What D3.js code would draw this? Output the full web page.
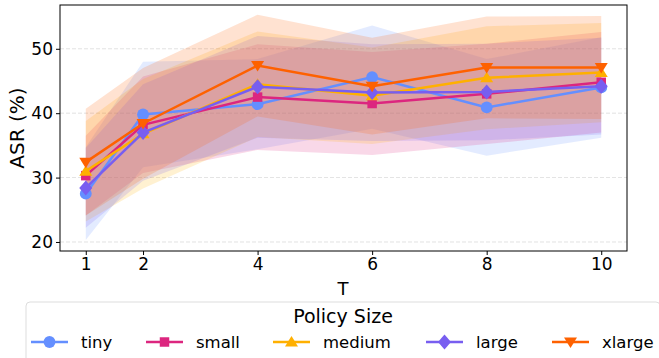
<!DOCTYPE html>
<html>
<head>
<meta charset="utf-8">
<script src="https://cdn.jsdelivr.net/npm/d3@7"></script>
<style>
  body { margin: 0; background: #fff; }
  svg { display: block; font-family: "DejaVu Sans", sans-serif; }
</style>
</head>
<body>
<svg id="chart"></svg>
<script>
// data
var steps = [1, 2, 4, 6, 8, 10];
var sizes = ['tiny', 'small', 'medium', 'large', 'xlarge'];
var colors = ['#648FFF', '#DC267F', '#FFB000', '#785EF0', '#FE6100'];
var shapes = ['circle', 'square', 'triangle', 'diamond', 'triangleDown'];

var tinyMean   = [27.5, 39.8, 41.4, 45.6, 40.9, 44.0];
var smallMean  = [30.3, 38.2, 42.5, 41.5, 43.0, 44.8];
var mediumMean = [31.0, 36.8, 44.5, 42.7, 45.5, 46.3];
var largeMean  = [28.4, 37.0, 44.1, 43.2, 43.3, 44.2];
var xlargeMean = [32.4, 38.4, 47.4, 44.2, 47.1, 47.1];

var tinyStd   = [7.2, 8.2, 7.0, 8.0, 7.5, 7.8];
var smallStd  = [6.2, 7.5, 8.2, 8.0, 7.8, 7.8];
var mediumStd = [7.8, 8.5, 8.2, 7.5, 8.0, 7.7];
var largeStd  = [6.2, 7.5, 7.9, 7.5, 7.5, 7.5];
var xlargeStd = [8.3, 8.6, 7.9, 7.5, 7.9, 8.0];

var yTicks = [20, 30, 40, 50];

var means = [tinyMean, smallMean, mediumMean, largeMean, xlargeMean];
var stds = [tinyStd, smallStd, mediumStd, largeStd, xlargeStd];

var series = sizes.map(function(name, i){
    return {
        name: name, color: colors[i], shape: shapes[i],
        pts: steps.map(function(t, j){
            return {t: t, m: means[i][j], s: stds[i][j]};
        })
    };
});

var W = 659, H = 358;
var plotL = 60, plotR = 627, plotT = 5, plotB = 251;

var svg = d3.select('#chart').attr('width', W).attr('height', H);

var x = d3.scaleLinear().domain([0.55, 10.45]).range([plotL, plotR]);
var y = d3.scaleLinear().domain([18.6, 56.8]).range([plotB, plotT]);

// grid
svg.append('g')
    .selectAll('line')
    .data(yTicks)
    .enter().append('line')
    .attr('x1', plotL).attr('x2', plotR)
    .attr('y1', function(d){ return y(d); })
    .attr('y2', function(d){ return y(d); })
    .attr('stroke', '#cccccc')
    .attr('stroke-width', 0.8)
    .attr('stroke-dasharray', '4,2')
    .attr('opacity', 0.7);

// bands
var area = d3.area()
    .x(function(d){ return x(d.t); })
    .y0(function(d){ return y(d.m - d.s); })
    .y1(function(d){ return y(d.m + d.s); });

svg.append('g')
    .selectAll('path')
    .data(series)
    .enter().append('path')
    .attr('d', function(d){ return area(d.pts); })
    .attr('fill', function(d){ return d.color; })
    .attr('fill-opacity', 0.18);

// lines
var line = d3.line()
    .x(function(d){ return x(d.t); })
    .y(function(d){ return y(d.m); });

function markerPath(shape){
    if (shape == 'circle') return d3.symbol(d3.symbolCircle, 110)();
    if (shape == 'square') return d3.symbol(d3.symbolSquare, 90)();
    if (shape == 'triangle') return 'M0,-6L6.5,4.5L-6.5,4.5Z';
    if (shape == 'triangleDown') return 'M0,6L6.5,-4.5L-6.5,-4.5Z';
    return 'M0,-7.5L6.5,0L0,7.5L-6.5,0Z';
}

series.forEach(function(s){
    var g = svg.append('g');
    g.append('path')
        .attr('d', line(s.pts))
        .attr('fill', 'none')
        .attr('stroke', s.color)
        .attr('stroke-width', 2.5);
    g.selectAll('path.mk')
        .data(s.pts)
        .enter().append('path')
        .attr('class', 'mk')
        .attr('transform', function(d){ return 'translate(' + x(d.t) + ',' + y(d.m) + ')'; })
        .attr('d', markerPath(s.shape))
        .attr('fill', s.color);
});

// frame
svg.append('rect')
    .attr('x', plotL).attr('y', plotT)
    .attr('width', plotR - plotL).attr('height', plotB - plotT)
    .attr('fill', 'none')
    .attr('stroke', '#000')
    .attr('stroke-width', 1);

// axes
var xAxis = svg.append('g')
    .attr('transform', 'translate(0,' + plotB + ')')
    .call(d3.axisBottom(x).tickValues(steps).tickSize(4).tickPadding(3).tickFormat(d3.format('d')));
var yAxis = svg.append('g')
    .attr('transform', 'translate(' + plotL + ',0)')
    .call(d3.axisLeft(y).tickValues(yTicks).tickSize(4).tickPadding(3));

[xAxis, yAxis].forEach(function(a){
    a.select('.domain').remove();
    a.selectAll('text').attr('font-size', 17).attr('fill', '#000')
        .attr('font-family', '"DejaVu Sans", sans-serif');
    a.selectAll('line').attr('stroke', '#000');
});

svg.append('text')
    .attr('x', 343).attr('y', 295)
    .attr('text-anchor', 'middle')
    .attr('font-size', 18)
    .text('T');

svg.append('text')
    .attr('transform', 'translate(24,128) rotate(-90)')
    .attr('text-anchor', 'middle')
    .attr('font-size', 20)
    .text('ASR (%)');

// legend
var leg = svg.append('g');
leg.append('rect')
    .attr('x', 26).attr('y', 302)
    .attr('width', 634).attr('height', 70)
    .attr('rx', 4)
    .attr('fill', '#fff')
    .attr('fill-opacity', 0.8)
    .attr('stroke', '#dddddd')
    .attr('stroke-width', 1);

leg.append('text')
    .attr('x', 343).attr('y', 323)
    .attr('text-anchor', 'middle')
    .attr('font-size', 19)
    .text('Policy Size');

var legX = [31, 146, 273, 426, 552];
series.forEach(function(s, i){
    var g = leg.append('g').attr('transform', 'translate(' + legX[i] + ',342)');
    g.append('line')
        .attr('x1', 0).attr('x2', 37)
        .attr('stroke', s.color).attr('stroke-width', 2.5);
    g.append('path')
        .attr('transform', 'translate(18.5,0)')
        .attr('d', markerPath(s.shape))
        .attr('fill', s.color);
    g.append('text')
        .attr('x', 50).attr('y', 6)
        .attr('font-size', 16.5)
        .text(s.name);
});
</script>
</body>
</html>
